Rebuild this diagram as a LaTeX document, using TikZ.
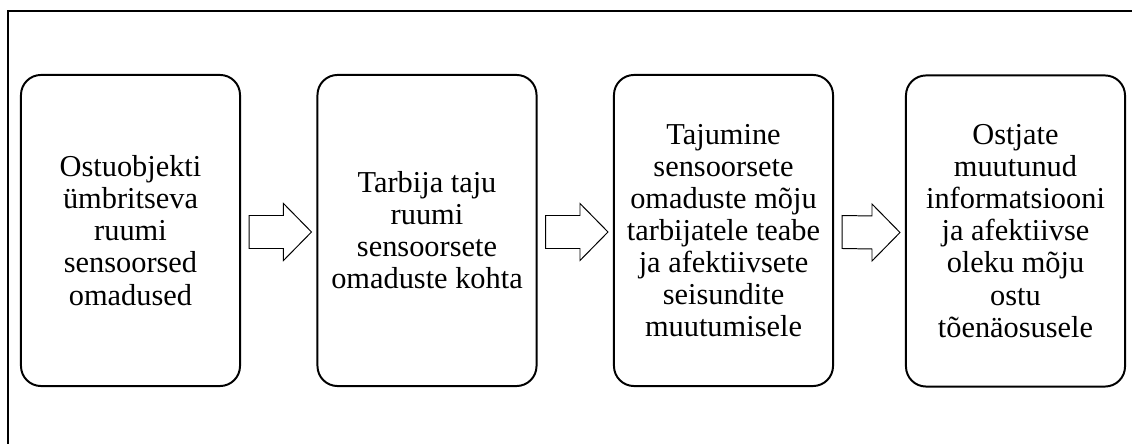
\documentclass[tikz,border=0pt]{standalone}
\usepackage{fontspec}
\setmainfont{Liberation Serif}
\usetikzlibrary{calc}
\tikzset{>=latex}
\tikzstyle{frameline}=[draw=black,line width=1.2pt]
\tikzstyle{stagebox}=[draw=black,line width=1.4pt,rounded corners=0.5cm,
  minimum width=5.475cm,minimum height=7.775cm,align=center,
  font=\fontsize{21.6}{22.8}\selectfont]
\tikzstyle{arrowline}=[draw=black,line width=0.7pt,fill=white]

\begin{document}
\begin{tikzpicture}[x=0.025cm,y=-0.025cm]
    \useasboundingbox (0,0) rectangle (1132,444);
    \draw[frameline] (1132,11) -- (8,11) -- (8,444);

    \node[stagebox] (s1) at (130.5,230.5) {Ostuobjekti\\ümbritseva\\ruumi\\sensoorsed\\omadused};
    \node[stagebox] (s2) at (427,230.5) {Tarbija taju\\ruumi\\sensoorsete\\omaduste kohta};
    \node[stagebox] (s3) at (723.5,230.5) {Tajumine\\sensoorsete\\omaduste mõju\\tarbijatele teabe\\ja afektiivsete\\seisundite\\muutumisele};
    \node[stagebox] (s4) at (1015.5,231) {Ostjate\\muutunud\\informatsiooni\\ja afektiivse\\oleku mõju\\ostu\\tõenäosusele};

    % hollow block arrows between the stages
    \foreach \a/\b in {s1/s2,s2/s3,s3/s4}{
    	\coordinate (t) at ($(\a.east)+(8,1.5)$);
    	\coordinate (p) at ($(\b.west)+(-5,1.5)$);
    	\draw[arrowline] ($(t)+(0,-16.5)$) -- ($(p)+(-28,-16.5)$) -- ($(p)+(-28,-28.5)$)
    	  -- (p) -- ($(p)+(-28,28.5)$) -- ($(p)+(-28,16.5)$) -- ($(t)+(0,16.5)$) -- cycle;
    }
\end{tikzpicture}
\end{document}
